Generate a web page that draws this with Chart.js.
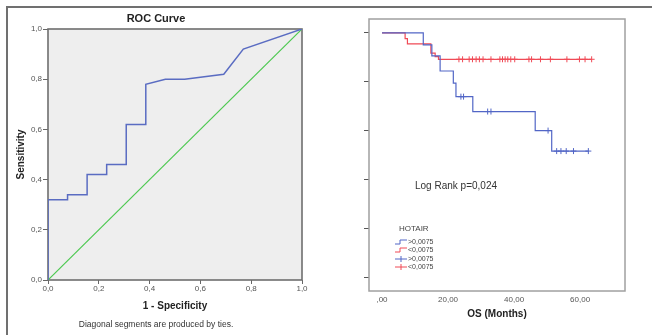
<!DOCTYPE html>
<html>
<head>
<meta charset="utf-8">
<script src="https://cdn.jsdelivr.net/npm/chart.js@4.4.0/dist/chart.umd.min.js"></script>
<style>
  body { margin: 0; background: #fff; }
  #wrap { position: relative; width: 652px; height: 335px; overflow: hidden; }
  #rocChart { position: absolute; left: 0; top: 0; }
  #kmChart { position: absolute; left: 330px; top: 0; }
  .frameTop { position: absolute; left: 6px; top: 6px; width: 646px; height: 2px; background: #707070; }
  .frameLeft { position: absolute; left: 6px; top: 6px; width: 2px; height: 329px; background: #707070; }
</style>
</head>
<body>
<div id="wrap">
  <canvas id="rocChart" width="330" height="335"></canvas>
  <canvas id="kmChart" width="322" height="335"></canvas>
  <div class="frameTop"></div>
  <div class="frameLeft"></div>
</div>
<script>
// ROC curve (left)
const rocFpr = [0, 0, 0.077, 0.077, 0.154, 0.154, 0.231, 0.231, 0.308, 0.308, 0.385, 0.385, 0.462, 0.538, 0.692, 0.769, 1];
const rocTpr = [0, 0.32, 0.32, 0.34, 0.34, 0.42, 0.42, 0.46, 0.46, 0.62, 0.62, 0.78, 0.80, 0.80, 0.82, 0.92, 1];
const refLine = [0, 1];
const rocTicks = [0, 0.2, 0.4, 0.6, 0.8, 1];
const rocTickLabels = ['0,0', '0,2', '0,4', '0,6', '0,8', '1,0'];

// Kaplan-Meier (right), HOTAIR > 0,0075 (blue) and < 0,0075 (red)
const hiTime = [0, 12.5, 15.1, 17.6, 21.6, 22.4, 27.5, 46.4, 51.4, 62.5];
const hiSurv = [1, 0.951, 0.906, 0.844, 0.794, 0.739, 0.678, 0.600, 0.516, 0.516];
const hiCensTime = [23.9, 24.7, 32.0, 33.0, 50.3, 52.9, 54.2, 55.8, 58.0, 62.5];
const hiCensSurv = [0.739, 0.739, 0.678, 0.678, 0.600, 0.516, 0.516, 0.516, 0.516, 0.516];
const loTime = [0, 7.0, 7.7, 14.8, 16.1, 17.1, 63.5];
const loSurv = [1, 0.977, 0.955, 0.917, 0.903, 0.892, 0.892];
const loCensTime = [23.3, 24.4, 26.4, 27.4, 28.5, 29.5, 30.6, 33.0, 35.7, 36.5, 37.3, 38.1, 39.0, 40.2, 44.5, 45.3, 48.0, 51.0, 56.0, 59.8, 61.5, 63.5];
const loCensSurv = [0.892, 0.892, 0.892, 0.892, 0.892, 0.892, 0.892, 0.892, 0.892, 0.892, 0.892, 0.892, 0.892, 0.892, 0.892, 0.892, 0.892, 0.892, 0.892, 0.892, 0.892, 0.892];
const kmXTicks = [0, 20, 40, 60];
const kmXLabels = [',00', '20,00', '40,00', '60,00'];
const kmYTicks = [0, 0.2, 0.4, 0.6, 0.8, 1];
const groupLabels = ['>0,0075', '<0,0075', '>0,0075', '<0,0075'];

const FONT = '"Liberation Sans", Arial, sans-serif';
const BLUE = '#5266c6';
const RED = '#f04a56';
Chart.defaults.font.family = FONT;

const toXY = (xs, ys) => xs.map((x, i) => ({ x: x, y: ys[i] }));

const rocDecor = {
  id: 'rocDecor',
  beforeDraw(chart) {
    const { ctx, chartArea: a } = chart;
    ctx.save();
    ctx.fillStyle = '#eeeeee';
    ctx.fillRect(a.left, a.top, a.right - a.left, a.bottom - a.top);
    ctx.restore();
  },
  beforeDatasetsDraw(chart) {
    const { ctx, chartArea: a } = chart;
    ctx.save();
    ctx.strokeStyle = '#6e6e6e';
    ctx.lineWidth = 1.6;
    ctx.strokeRect(a.left, a.top, a.right - a.left, a.bottom - a.top);
    ctx.restore();
  },
  afterDraw(chart) {
    const ctx = chart.ctx;
    ctx.save();
    ctx.textAlign = 'center';
    ctx.textBaseline = 'middle';
    ctx.fillStyle = '#222';
    ctx.font = 'bold 11px ' + FONT;
    ctx.fillText('ROC Curve', 156, 19);
    ctx.fillStyle = '#333';
    ctx.font = '8.5px ' + FONT;
    ctx.fillText('Diagonal segments are produced by ties.', 156, 325);
    ctx.restore();
  }
};

new Chart(document.getElementById('rocChart'), {
  type: 'line',
  data: {
    datasets: [{
      data: toXY(rocFpr, rocTpr),
      borderColor: '#5a6cc2',
      borderWidth: 1.5,
      pointRadius: 0,
      tension: 0
    }, {
      data: toXY(refLine, refLine),
      borderColor: '#4cc850',
      borderWidth: 1.2,
      pointRadius: 0
    }]
  },
  options: {
    responsive: false,
    animation: false,
    devicePixelRatio: 1,
    layout: { padding: { top: 29, right: 28, bottom: 0, left: 0 } },
    plugins: { legend: { display: false }, tooltip: { enabled: false } },
    scales: {
      x: {
        type: 'linear', min: 0, max: 1,
        afterBuildTicks: s => { s.ticks = rocTicks.map(v => ({ value: v })); },
        afterFit: s => { s.height = 55; },
        ticks: { callback: v => rocTickLabels[rocTicks.indexOf(v)], color: '#555', font: { size: 8 }, padding: 0, maxRotation: 0 },
        grid: { drawOnChartArea: false, tickLength: 4, color: '#666' },
        border: { display: false },
        title: { display: true, text: '1 - Specificity', color: '#222', font: { size: 10, weight: 'bold' }, padding: { bottom: 23 } }
      },
      y: {
        type: 'linear', min: 0, max: 1,
        afterBuildTicks: s => { s.ticks = rocTicks.map(v => ({ value: v })); },
        afterFit: s => { s.width = 48; },
        ticks: { callback: v => rocTickLabels[rocTicks.indexOf(v)], color: '#555', font: { size: 8 }, padding: 1 },
        grid: { drawOnChartArea: false, tickLength: 5, color: '#666' },
        border: { display: false },
        title: { display: true, text: 'Sensitivity', color: '#222', font: { size: 10, weight: 'bold' }, padding: { top: 15 } }
      }
    }
  },
  plugins: [rocDecor]
});

const kmDecor = {
  id: 'kmDecor',
  beforeDatasetsDraw(chart) {
    const { ctx, chartArea: a } = chart;
    ctx.save();
    ctx.strokeStyle = '#a0a0a0';
    ctx.lineWidth = 1.5;
    ctx.strokeRect(a.left, a.top, a.right - a.left, a.bottom - a.top);
    ctx.restore();
  },
  afterDraw(chart) {
    const ctx = chart.ctx;
    ctx.save();
    ctx.textBaseline = 'middle';
    ctx.fillStyle = '#333';
    ctx.font = '10px ' + FONT;
    ctx.fillText('Log Rank p=0,024', 85, 186);

    // legend
    ctx.fillStyle = '#444';
    ctx.font = '8px ' + FONT;
    ctx.fillText('HOTAIR', 69, 229);
    const rowY = [242, 250, 259, 267];
    const cols = [BLUE, RED, BLUE, RED];
    ctx.font = '7px ' + FONT;
    ctx.lineWidth = 1;
    rowY.forEach((y, i) => {
      ctx.strokeStyle = cols[i];
      ctx.beginPath();
      if (i < 2) {
        ctx.moveTo(65, y + 2); ctx.lineTo(70, y + 2); ctx.lineTo(70, y - 2); ctx.lineTo(77, y - 2);
      } else {
        ctx.moveTo(65, y); ctx.lineTo(77, y);
        ctx.moveTo(71, y - 3); ctx.lineTo(71, y + 3);
      }
      ctx.stroke();
      ctx.fillStyle = '#444';
      ctx.fillText(groupLabels[i], 78, y);
    });
    ctx.restore();
  }
};

new Chart(document.getElementById('kmChart'), {
  type: 'line',
  data: {
    datasets: [{
      data: toXY(hiTime, hiSurv),
      stepped: true,
      borderColor: BLUE,
      borderWidth: 1.2,
      pointRadius: 0
    }, {
      data: toXY(loTime, loSurv),
      stepped: true,
      borderColor: RED,
      borderWidth: 1.2,
      pointRadius: 0
    }, {
      data: toXY(hiCensTime, hiCensSurv),
      showLine: false,
      pointStyle: 'cross',
      pointRadius: 3,
      pointBorderWidth: 1,
      borderColor: BLUE
    }, {
      data: toXY(loCensTime, loCensSurv),
      showLine: false,
      pointStyle: 'cross',
      pointRadius: 3,
      pointBorderWidth: 1,
      borderColor: RED
    }]
  },
  options: {
    responsive: false,
    animation: false,
    devicePixelRatio: 1,
    layout: { padding: { top: 19, right: 27, bottom: 0, left: 0 } },
    plugins: { legend: { display: false }, tooltip: { enabled: false } },
    scales: {
      x: {
        type: 'linear', min: -3.94, max: 73.6,
        afterBuildTicks: s => { s.ticks = kmXTicks.map(v => ({ value: v })); },
        afterFit: s => { s.height = 44; },
        ticks: { callback: v => kmXLabels[kmXTicks.indexOf(v)], color: '#555', font: { size: 8 }, padding: 4, maxRotation: 0 },
        grid: { drawOnChartArea: false, drawTicks: false },
        border: { display: false },
        title: { display: true, text: 'OS (Months)', color: '#222', font: { size: 10, weight: 'bold' }, padding: { bottom: 15 } }
      },
      y: {
        type: 'linear', min: -0.057, max: 1.057,
        afterBuildTicks: s => { s.ticks = kmYTicks.map(v => ({ value: v })); },
        afterFit: s => { s.width = 39; },
        ticks: { callback: () => '', padding: 0 },
        grid: { drawOnChartArea: false, tickLength: 5, color: '#555' },
        border: { display: false }
      }
    }
  },
  plugins: [kmDecor]
});
</script>
</body>
</html>
